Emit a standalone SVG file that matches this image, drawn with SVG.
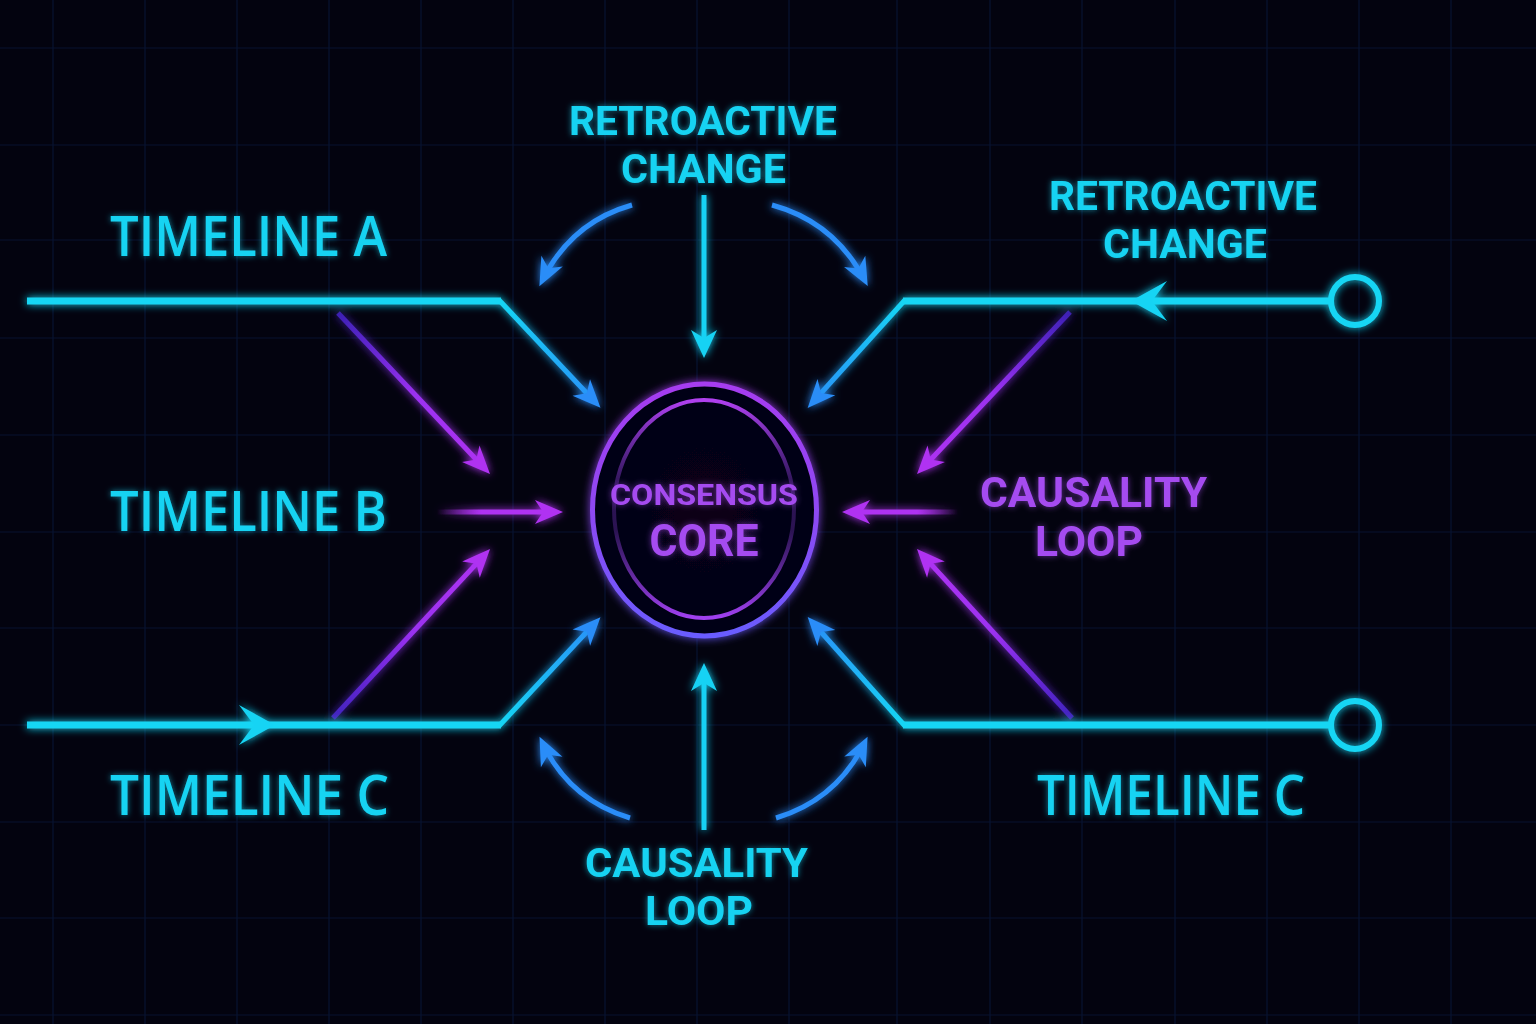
<svg xmlns="http://www.w3.org/2000/svg" width="1536" height="1024" viewBox="0 0 1536 1024">
<style>
.grid line{stroke:#081331;stroke-width:1.2}
.tl{fill:none;stroke:#16d6f4;stroke-width:7;stroke-linejoin:miter}
.arr{fill:none;stroke-width:5;stroke-linecap:butt}
.lbl{font-family:"Open Sans","Liberation Sans",sans-serif;font-weight:600;fill:#19d3f2}
.lb2{font-family:Roboto,"Liberation Sans",sans-serif;font-weight:700;fill:#19d3f2;text-anchor:middle}
.pur{fill:#a54cf0}
</style>
<defs>
<filter id="glow" x="-20%" y="-20%" width="140%" height="140%">
<feGaussianBlur in="SourceGraphic" stdDeviation="4" result="b"/>
<feMerge><feMergeNode in="b"/><feMergeNode in="SourceGraphic"/></feMerge>
</filter>
<filter id="tglow" x="-10%" y="-30%" width="120%" height="160%">
<feGaussianBlur in="SourceGraphic" stdDeviation="3" result="b"/>
<feComponentTransfer in="b" result="b2"><feFuncA type="linear" slope="0.6"/></feComponentTransfer>
<feMerge><feMergeNode in="b2"/><feMergeNode in="SourceGraphic"/></feMerge>
</filter>
<marker id="mBlue" markerUnits="userSpaceOnUse" markerWidth="40" markerHeight="40" viewBox="-30 -15 40 30" refX="-8" refY="0" orient="auto"><path d="M0,0 L-28,-12 L-20,0 L-28,12 Z" fill="#2a8df8"/></marker>
<marker id="mCyan" markerUnits="userSpaceOnUse" markerWidth="40" markerHeight="40" viewBox="-30 -15 40 30" refX="-8" refY="0" orient="auto"><path d="M0,0 L-28,-13 L-20,0 L-28,13 Z" fill="#18d2f4"/></marker>
<marker id="mPur" markerUnits="userSpaceOnUse" markerWidth="40" markerHeight="40" viewBox="-30 -15 40 30" refX="-8" refY="0" orient="auto"><path d="M0,0 L-28,-12 L-20,0 L-28,12 Z" fill="#b032f2"/></marker>
<linearGradient id="gA" gradientUnits="userSpaceOnUse" x1="500" y1="301" x2="600" y2="408"><stop offset="0" stop-color="#16d6f4"/><stop offset="1" stop-color="#2a8df8"/></linearGradient>
<linearGradient id="gC" gradientUnits="userSpaceOnUse" x1="500" y1="725" x2="600" y2="617"><stop offset="0" stop-color="#16d6f4"/><stop offset="1" stop-color="#2a8df8"/></linearGradient>
<linearGradient id="gRA" gradientUnits="userSpaceOnUse" x1="904" y1="301" x2="808" y2="408"><stop offset="0" stop-color="#16d6f4"/><stop offset="1" stop-color="#2a8df8"/></linearGradient>
<linearGradient id="gRC" gradientUnits="userSpaceOnUse" x1="904" y1="725" x2="808" y2="617"><stop offset="0" stop-color="#16d6f4"/><stop offset="1" stop-color="#2a8df8"/></linearGradient>
<linearGradient id="p1" gradientUnits="userSpaceOnUse" x1="338" y1="313" x2="490" y2="474"><stop offset="0" stop-color="#4a26d8" stop-opacity="0.75"/><stop offset="0.5" stop-color="#9a30f0"/><stop offset="1" stop-color="#b032f2"/></linearGradient>
<linearGradient id="p2" gradientUnits="userSpaceOnUse" x1="333" y1="718" x2="490" y2="549"><stop offset="0" stop-color="#4a26d8" stop-opacity="0.8"/><stop offset="0.5" stop-color="#9a30f0"/><stop offset="1" stop-color="#b032f2"/></linearGradient>
<linearGradient id="p3" gradientUnits="userSpaceOnUse" x1="1070" y1="312" x2="917" y2="474"><stop offset="0" stop-color="#4a26d8" stop-opacity="0.75"/><stop offset="0.5" stop-color="#9a30f0"/><stop offset="1" stop-color="#b032f2"/></linearGradient>
<linearGradient id="p4" gradientUnits="userSpaceOnUse" x1="1072" y1="718" x2="917" y2="549"><stop offset="0" stop-color="#4a26d8" stop-opacity="0.8"/><stop offset="0.5" stop-color="#9a30f0"/><stop offset="1" stop-color="#b032f2"/></linearGradient>
<linearGradient id="p5" gradientUnits="userSpaceOnUse" x1="437" y1="512" x2="563" y2="512"><stop offset="0" stop-color="#b032f2" stop-opacity="0"/><stop offset="0.35" stop-color="#b032f2"/><stop offset="1" stop-color="#b032f2"/></linearGradient>
<linearGradient id="p6" gradientUnits="userSpaceOnUse" x1="958" y1="512" x2="842" y2="512"><stop offset="0" stop-color="#b032f2" stop-opacity="0"/><stop offset="0.35" stop-color="#b032f2"/><stop offset="1" stop-color="#b032f2"/></linearGradient>
<linearGradient id="ring" x1="0" y1="0" x2="0" y2="1"><stop offset="0" stop-color="#a63cf0"/><stop offset="0.5" stop-color="#8e48f2"/><stop offset="1" stop-color="#6a5cff"/></linearGradient>
<linearGradient id="ring2" x1="0" y1="0" x2="0" y2="1"><stop offset="0" stop-color="#b040f0"/><stop offset="0.4" stop-color="#9040e0" stop-opacity="0.3"/><stop offset="0.6" stop-color="#9040e0" stop-opacity="0.3"/><stop offset="1" stop-color="#a040f0"/></linearGradient>
<radialGradient id="coreBg" cx="0.5" cy="0.5" r="0.5"><stop offset="0" stop-color="#080418"/><stop offset="1" stop-color="#040312"/></radialGradient>
</defs>
<rect width="1536" height="1024" fill="#03030f"/>
<g class="grid">
<line x1="53" y1="0" x2="53" y2="1024"/><line x1="145" y1="0" x2="145" y2="1024"/><line x1="237" y1="0" x2="237" y2="1024"/><line x1="329" y1="0" x2="329" y2="1024"/><line x1="421" y1="0" x2="421" y2="1024"/><line x1="513" y1="0" x2="513" y2="1024"/><line x1="605" y1="0" x2="605" y2="1024"/><line x1="697" y1="0" x2="697" y2="1024"/><line x1="789" y1="0" x2="789" y2="1024"/><line x1="897" y1="0" x2="897" y2="1024"/><line x1="990" y1="0" x2="990" y2="1024"/><line x1="1082" y1="0" x2="1082" y2="1024"/><line x1="1175" y1="0" x2="1175" y2="1024"/><line x1="1267" y1="0" x2="1267" y2="1024"/><line x1="1359" y1="0" x2="1359" y2="1024"/><line x1="1451" y1="0" x2="1451" y2="1024"/>
<line x1="0" y1="48" x2="1536" y2="48"/><line x1="0" y1="145" x2="1536" y2="145"/><line x1="0" y1="240" x2="1536" y2="240"/><line x1="0" y1="338" x2="1536" y2="338"/><line x1="0" y1="435" x2="1536" y2="435"/><line x1="0" y1="532" x2="1536" y2="532"/><line x1="0" y1="628" x2="1536" y2="628"/><line x1="0" y1="725" x2="1536" y2="725"/><line x1="0" y1="822" x2="1536" y2="822"/><line x1="0" y1="918" x2="1536" y2="918"/><line x1="0" y1="1015" x2="1536" y2="1015"/>
</g>
<g id="connectors" filter="url(#glow)">
<line class="tl" x1="27" y1="301" x2="501" y2="301"/>
<line class="arr" x1="499" y1="300" x2="595" y2="402" stroke="url(#gA)" stroke-width="6" marker-end="url(#mBlue)"/>
<line class="tl" x1="27" y1="725" x2="501" y2="725"/>
<line class="arr" x1="499" y1="726" x2="595" y2="623" stroke="url(#gC)" stroke-width="6" marker-end="url(#mBlue)"/>
<path d="M275,725 L239,705 L254,725 L239,745 Z" fill="#18d4f4"/>
<line class="tl" x1="1330" y1="301" x2="903" y2="301"/>
<line class="arr" x1="905" y1="300" x2="813" y2="402" stroke="url(#gRA)" stroke-width="6" marker-end="url(#mBlue)"/>
<path d="M1131,301 L1167,281 L1152,301 L1167,321 Z" fill="#18d4f4"/>
<circle cx="1355" cy="301" r="24" fill="none" stroke="#16d6f4" stroke-width="6"/>
<line class="tl" x1="1330" y1="725" x2="903" y2="725"/>
<line class="arr" x1="905" y1="726" x2="813" y2="623" stroke="url(#gRC)" stroke-width="6" marker-end="url(#mBlue)"/>
<circle cx="1355" cy="725" r="24" fill="none" stroke="#16d6f4" stroke-width="6"/>
<line class="arr" x1="338" y1="313" x2="484.5" y2="468.2" stroke="url(#p1)" marker-end="url(#mPur)"/>
<line class="arr" x1="333" y1="718" x2="484.6" y2="554.9" stroke="url(#p2)" marker-end="url(#mPur)"/>
<line class="arr" x1="1070" y1="312" x2="922.5" y2="468.2" stroke="url(#p3)" marker-end="url(#mPur)"/>
<line class="arr" x1="1072" y1="718" x2="922.4" y2="554.9" stroke="url(#p4)" marker-end="url(#mPur)"/>
<line class="arr" x1="437" y1="512" x2="555" y2="512" stroke="url(#p5)" marker-end="url(#mPur)"/>
<line class="arr" x1="958" y1="512" x2="850" y2="512" stroke="url(#p6)" marker-end="url(#mPur)"/>
<line class="arr" x1="704" y1="195" x2="704" y2="350" stroke="#18d2f4" marker-end="url(#mCyan)"/>
<line class="arr" x1="704" y1="830" x2="704" y2="671" stroke="#18d2f4" marker-end="url(#mCyan)"/>
<path class="arr" d="M632,205 Q572,222 543,279" stroke="#2a8df8" stroke-width="4.5" marker-end="url(#mBlue)"/>
<path class="arr" d="M772,205 Q834,222 864,279" stroke="#2a8df8" stroke-width="4.5" marker-end="url(#mBlue)"/>
<path class="arr" d="M630,818 Q570,800 543,744" stroke="#2a8df8" stroke-width="4.5" marker-end="url(#mBlue)"/>
<path class="arr" d="M776,818 Q836,800 864,744" stroke="#2a8df8" stroke-width="4.5" marker-end="url(#mBlue)"/>
</g>
<g id="core">
<ellipse cx="704.5" cy="510" rx="112" ry="126" fill="url(#coreBg)" stroke="url(#ring)" stroke-width="5" filter="url(#glow)"/>
<ellipse cx="704" cy="509" rx="90" ry="109" fill="none" stroke="url(#ring2)" stroke-width="4"/>
<text class="lb2 pur" x="704" y="505" font-size="30" textLength="188" lengthAdjust="spacingAndGlyphs" filter="url(#tglow)">CONSENSUS</text>
<text class="lb2 pur" x="704" y="556" font-size="44" textLength="109" lengthAdjust="spacingAndGlyphs" filter="url(#tglow)">CORE</text>
</g>
<g id="timeline-a"><text class="lbl" x="110" y="256" font-size="56" textLength="277" lengthAdjust="spacingAndGlyphs" filter="url(#tglow)">TIMELINE A</text></g>
<g id="timeline-b"><text class="lbl" x="110" y="531" font-size="56" textLength="277" lengthAdjust="spacingAndGlyphs" filter="url(#tglow)">TIMELINE B</text></g>
<g id="timeline-c-left"><text class="lbl" x="110" y="815" font-size="56" textLength="279" lengthAdjust="spacingAndGlyphs" filter="url(#tglow)">TIMELINE C</text></g>
<g id="timeline-c-right"><text class="lbl" x="1037" y="815" font-size="56" textLength="268" lengthAdjust="spacingAndGlyphs" filter="url(#tglow)">TIMELINE C</text></g>
<g id="retro-top">
<text class="lb2" x="703" y="135" font-size="40" textLength="268" lengthAdjust="spacingAndGlyphs" filter="url(#tglow)">RETROACTIVE</text>
<text class="lb2" x="703.5" y="183" font-size="40" textLength="165" lengthAdjust="spacingAndGlyphs" filter="url(#tglow)">CHANGE</text>
</g>
<g id="retro-right">
<text class="lb2" x="1183" y="210" font-size="40" textLength="268" lengthAdjust="spacingAndGlyphs" filter="url(#tglow)">RETROACTIVE</text>
<text class="lb2" x="1185" y="258" font-size="40" textLength="164" lengthAdjust="spacingAndGlyphs" filter="url(#tglow)">CHANGE</text>
</g>
<g id="causality-right">
<text class="lb2 pur" x="1093.5" y="507" font-size="42" textLength="227" lengthAdjust="spacingAndGlyphs" filter="url(#tglow)">CAUSALITY</text>
<text class="lb2 pur" x="1089" y="556" font-size="42" textLength="108" lengthAdjust="spacingAndGlyphs" filter="url(#tglow)">LOOP</text>
</g>
<g id="causality-bottom">
<text class="lb2" x="696.5" y="877" font-size="40" textLength="223" lengthAdjust="spacingAndGlyphs" filter="url(#tglow)">CAUSALITY</text>
<text class="lb2" x="699" y="925" font-size="40" textLength="108" lengthAdjust="spacingAndGlyphs" filter="url(#tglow)">LOOP</text>
</g>
</svg>
